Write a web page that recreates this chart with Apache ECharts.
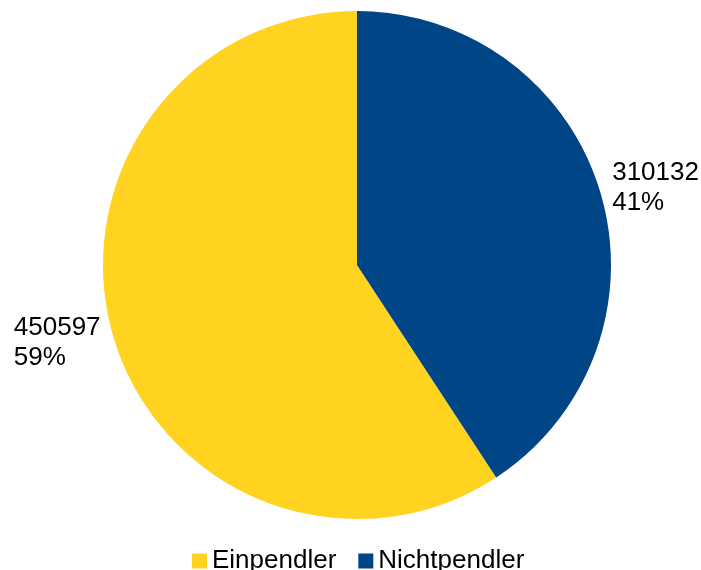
<!DOCTYPE html>
<html>
<head>
<meta charset="utf-8">
<script src="https://cdn.jsdelivr.net/npm/echarts@6/dist/echarts.min.js"></script>
<style>
html,body{margin:0;padding:0;background:#fff;}
#chart{width:701px;height:570px;}
</style>
</head>
<body>
<div id="chart"></div>
<script>
var categories = ['Einpendler', 'Nichtpendler'];
var values = [450597, 310132];
var colors = ['#FFD320', '#004586'];

var labelPads = [[7, 0, 0, 0], [0, 0, 6, 0]];

var chart = echarts.init(document.getElementById('chart'), null, {renderer: 'canvas'});
var data = categories.map(function (c, i) {
  return {
    name: c,
    value: values[i],
    itemStyle: {color: colors[i]},
    label: {padding: labelPads[i]}
  };
});

chart.setOption({
  animation: false,
  backgroundColor: '#ffffff',
  legend: {
    data: categories,
    left: 187,
    top: 543,
    itemWidth: 15,
    itemHeight: 15,
    itemGap: 22,
    icon: 'rect',
    textStyle: {fontFamily: 'Liberation Sans', fontSize: 26, color: '#000'}
  },
  series: [{
    type: 'pie',
    center: [357, 265],
    radius: 254,
    startAngle: 90,
    clockwise: false,
    avoidLabelOverlap: false,
    data: data,
    emphasis: {disabled: true},
    label: {
      show: true,
      position: 'outside',
      bleedMargin: 0,
      distanceToLabelLine: 5,
      formatter: function (p) {
        return '{a|' + p.value + '}\n{a|' + Math.round(p.percent) + '%}';
      },
      rich: {
        a: {
          fontFamily: 'Liberation Sans',
          fontSize: 26,
          lineHeight: 30,
          color: '#000',
          width: 88,
          align: 'left'
        }
      }
    },
    labelLine: {show: false, length: 5, length2: 2}
  }]
});
</script>
</body>
</html>
